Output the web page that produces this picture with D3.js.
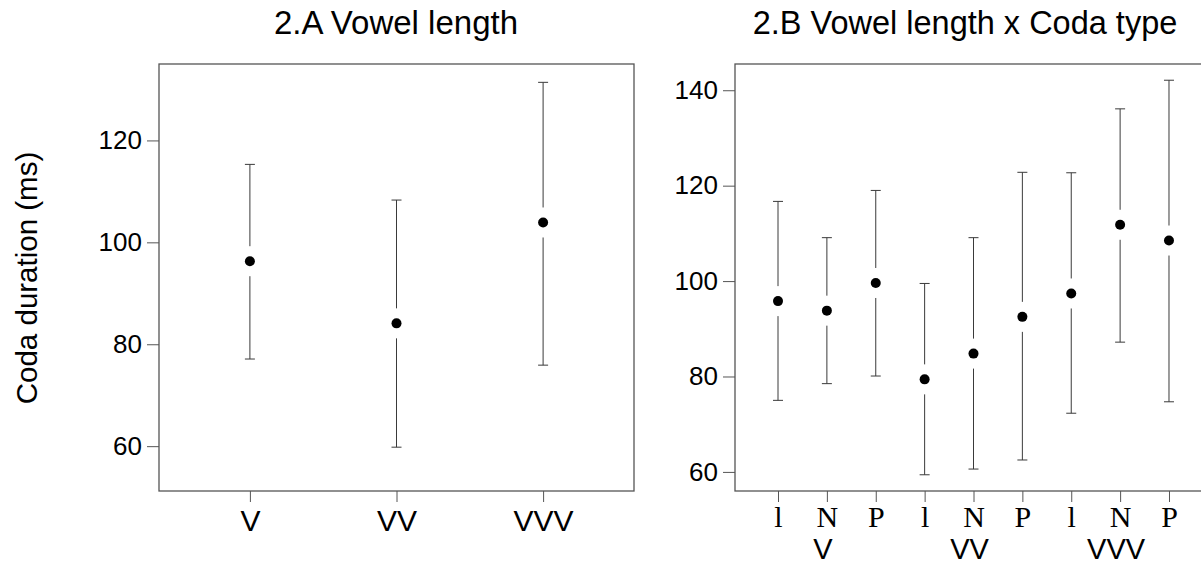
<!DOCTYPE html>
<html>
<head>
<meta charset="utf-8">
<script src="https://cdn.jsdelivr.net/npm/d3@7"></script>
<style>
  body { margin: 0; background: #fff; }
  svg { display: block; font-family: Arial, "Liberation Sans", sans-serif; }
</style>
</head>
<body>
<div id="chart-area"></div>
<script>
// panel A: vowel length
var groups = ['V', 'VV', 'VVV'];
var groupMean = [96.3, 84.1, 103.9];
var groupLow = [77.1, 59.8, 75.9];
var groupHigh = [115.3, 108.3, 131.4];

// panel B: vowel length x coda type
var codas = ['l', 'N', 'P'];
var cellMean = [95.8, 93.8, 99.6, 79.4, 84.8, 92.5, 97.4, 111.8, 108.5];
var cellLow = [75.0, 78.5, 80.1, 59.4, 60.6, 62.5, 72.3, 87.2, 74.7];
var cellHigh = [116.7, 109.1, 119.0, 99.5, 109.1, 122.8, 122.7, 136.1, 142.1];

var leftTicks = [60, 80, 100, 120];
var rightTicks = [60, 80, 100, 120, 140];

var svg = d3.select('#chart-area').append('svg')
  .attr('width', 1201)
  .attr('height', 567);

var top0 = 64, bottom0 = 491;
var gap = 15, cap = 5;

function drawErrors(g, rows, x, y) {
  var sel = g.selectAll('g.err').data(rows).enter().append('g').attr('class', 'err');
  sel.append('line')
    .attr('x1', function(d) { return x(d.key); })
    .attr('x2', function(d) { return x(d.key); })
    .attr('y1', function(d) { return y(d.high); })
    .attr('y2', function(d) { return y(d.mean) - gap; });
  sel.append('line')
    .attr('x1', function(d) { return x(d.key); })
    .attr('x2', function(d) { return x(d.key); })
    .attr('y1', function(d) { return y(d.mean) + gap; })
    .attr('y2', function(d) { return y(d.low); });
  sel.append('line')
    .attr('x1', function(d) { return x(d.key) - cap; })
    .attr('x2', function(d) { return x(d.key) + cap; })
    .attr('y1', function(d) { return y(d.high); })
    .attr('y2', function(d) { return y(d.high); });
  sel.append('line')
    .attr('x1', function(d) { return x(d.key) - cap; })
    .attr('x2', function(d) { return x(d.key) + cap; })
    .attr('y1', function(d) { return y(d.low); })
    .attr('y2', function(d) { return y(d.low); });
  sel.selectAll('line').attr('stroke', '#3a3a3a').attr('stroke-width', 1);
  sel.append('circle')
    .attr('cx', function(d) { return x(d.key); })
    .attr('cy', function(d) { return y(d.mean); })
    .attr('r', 5)
    .attr('fill', '#000');
}

function styleAxis(g, size) {
  g.select('.domain').remove();
  g.selectAll('.tick line').attr('stroke', '#555');
  g.selectAll('.tick text').attr('fill', '#000').style('font-size', size + 'px');
}

// ---- panel A ----
var xA = d3.scalePoint().domain(groups).range([159, 634]).padding(0.62);
var yA = d3.scaleLinear().domain([51.2, 135]).range([bottom0, top0]);

var gA = svg.append('g');
gA.append('g')
  .attr('transform', 'translate(159,0)')
  .call(d3.axisLeft(yA).tickValues(leftTicks).tickSize(12).tickPadding(5))
  .call(styleAxis, 26);
gA.append('g')
  .attr('transform', 'translate(0,' + bottom0 + ')')
  .call(d3.axisBottom(xA).tickSize(11).tickPadding(8))
  .call(styleAxis, 30);

var rowsA = groups.map(function(k, i) {
  return { key: k, mean: groupMean[i], low: groupLow[i], high: groupHigh[i] };
});
drawErrors(gA, rowsA, xA, yA);

gA.append('rect')
  .attr('x', 159).attr('y', top0)
  .attr('width', 634 - 159).attr('height', bottom0 - top0)
  .attr('fill', 'none').attr('stroke', '#555').attr('stroke-width', 1.3);

gA.append('text')
  .attr('x', 396).attr('y', 34)
  .attr('text-anchor', 'middle')
  .style('font-size', '33px')
  .text('2.A Vowel length');

svg.append('text')
  .attr('transform', 'translate(37,278) rotate(-90)')
  .attr('text-anchor', 'middle')
  .style('font-size', '29.5px')
  .text('Coda duration (ms)');

// ---- panel B ----
var keysB = [];
groups.forEach(function(gr) {
  codas.forEach(function(c) { keysB.push(gr + '_' + c); });
});
var xB = d3.scalePoint().domain(keysB).range([735, 1212]).padding(0.88);
var yB = d3.scaleLinear().domain([56, 145.5]).range([bottom0, top0]);

var gB = svg.append('g');
gB.append('g')
  .attr('transform', 'translate(735,0)')
  .call(d3.axisLeft(yB).tickValues(rightTicks).tickSize(12).tickPadding(5))
  .call(styleAxis, 26);
var axB = gB.append('g')
  .attr('transform', 'translate(0,' + bottom0 + ')')
  .call(d3.axisBottom(xB).tickSize(11).tickPadding(4)
    .tickFormat(function(d) { return d.split('_')[1]; }))
  .call(styleAxis, 30);
axB.selectAll('.tick text').style('font-family', '"Liberation Serif", "Times New Roman", serif');

gB.selectAll('text.grp')
  .data(groups)
  .enter().append('text')
  .attr('class', 'grp')
  .attr('x', function(d) { return xB(d + '_N') - 4; })
  .attr('y', 559)
  .attr('text-anchor', 'middle')
  .style('font-size', '29px')
  .text(function(d) { return d; });

var rowsB = keysB.map(function(k, i) {
  return { key: k, mean: cellMean[i], low: cellLow[i], high: cellHigh[i] };
});
drawErrors(gB, rowsB, xB, yB);

gB.append('rect')
  .attr('x', 735).attr('y', top0)
  .attr('width', 1212 - 735).attr('height', bottom0 - top0)
  .attr('fill', 'none').attr('stroke', '#555').attr('stroke-width', 1.3);

gB.append('text')
  .attr('x', 965).attr('y', 34)
  .attr('text-anchor', 'middle')
  .style('font-size', '32.5px')
  .text('2.B Vowel length x Coda type');
</script>
</body>
</html>
